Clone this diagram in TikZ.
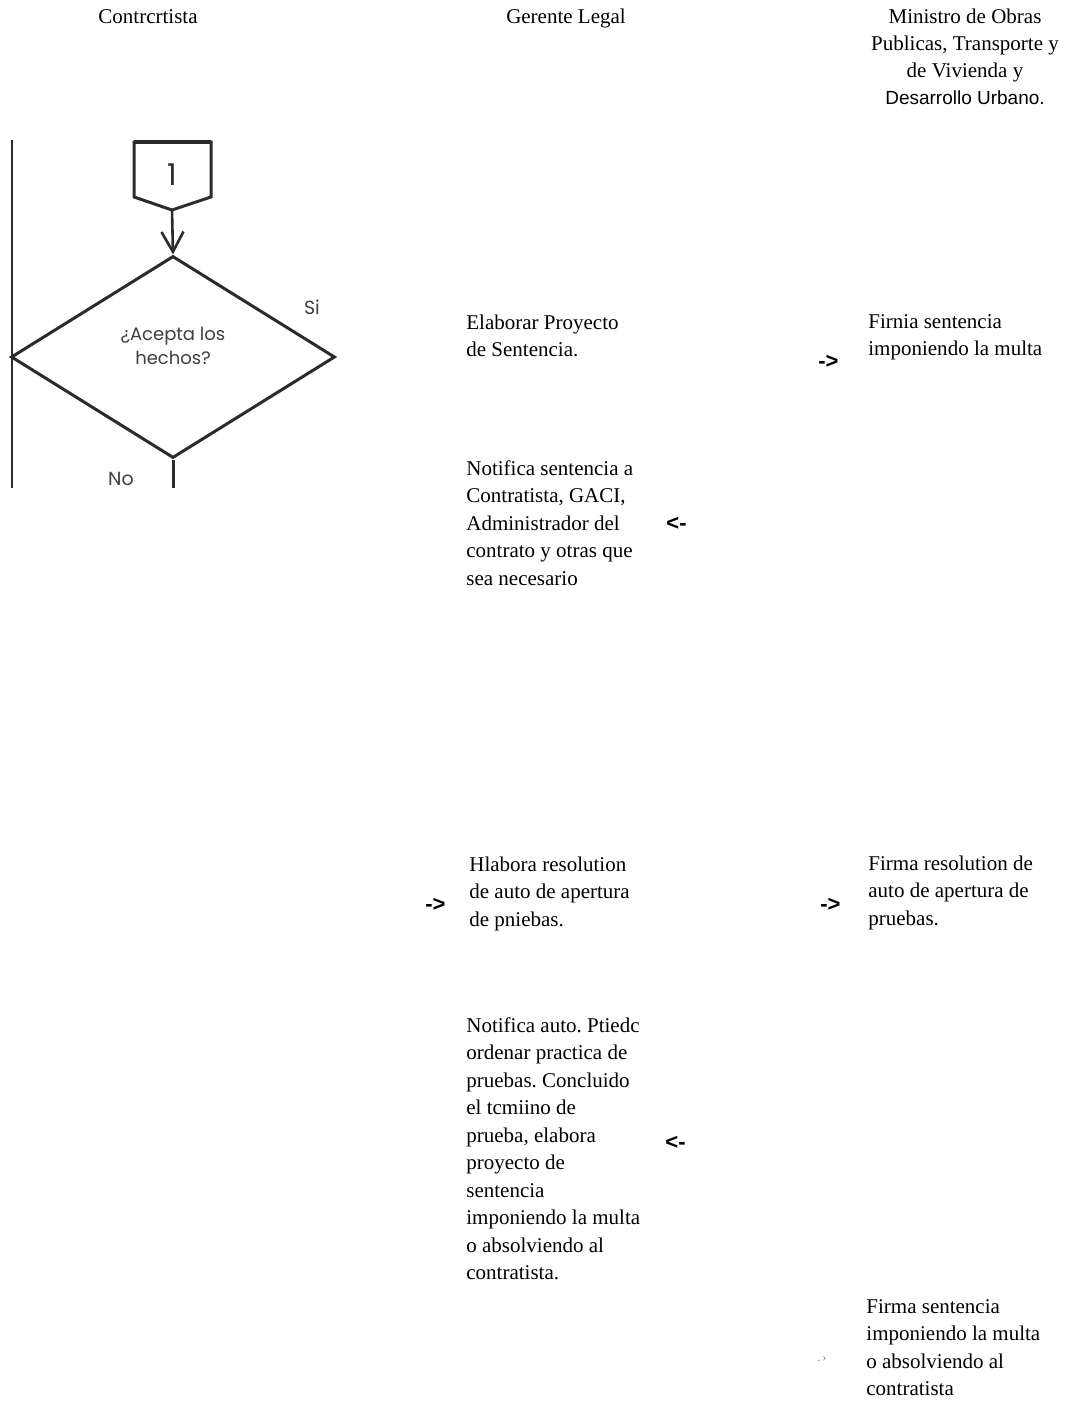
\documentclass[tikz,border=0pt]{standalone}
\usepackage{fontspec}
\setmainfont{Liberation Serif}
\setsansfont{Liberation Sans}
\newfontfamily\flowfont{Poppins}
\usetikzlibrary{shapes.geometric,arrows.meta}
\frenchspacing
\definecolor{ink}{HTML}{2B2B2B}
\definecolor{flowtext}{HTML}{3E3E3E}
\newcommand{\leftblk}[1]{\begin{tabular}[t]{@{}l@{}}#1\end{tabular}}
\newcommand{\centblk}[1]{\begin{tabular}[t]{@{}c@{}}#1\end{tabular}}
\tikzset{
  body/.style={font=\frenchspacing\fontsize{10.5}{13.75}\selectfont, anchor=base west, inner sep=0pt},
  hdr/.style={font=\fontsize{10.5}{13.4}\selectfont, anchor=base, inner sep=0pt},
  arrtxt/.style={font=\sffamily\bfseries\fontsize{11}{13}\selectfont, anchor=west, inner sep=0pt},
  flowline/.style={draw=ink, line width=1.5pt, line join=miter},
  flowlbl/.style={font=\flowfont\fontsize{9}{12}\selectfont, text=flowtext, inner sep=0pt, align=center}
}
\begin{document}
\begin{tikzpicture}[x=0.5pt,y=-0.5pt]
\useasboundingbox (0,0) rectangle (1070,1402);
% headers
\node[hdr] (h1) at (148,24) {Contrcrtista};
\node[hdr] (h2) at (566,24) {Gerente Legal};
\node[hdr] (h3) at (965,24) {\centblk{Ministro de Obras\\Publicas, Transporte y\\de Vivienda y\\{\sffamily\fontsize{9.5}{13.4}\selectfont Desarrollo Urbano.}}};
% flowchart fragment
\draw[flowline, line width=1.2pt] (12,140) -- (12,488);
\coordinate (pTL) at (134,142);
\coordinate (pTR) at (211,142);
\coordinate (pR) at (211,197);
\coordinate (ptip) at (172,210);
\coordinate (pL) at (134,197);
\draw[flowline] (pTL) -- (pTR) -- (pR) -- (ptip) -- (pL) -- cycle;
\draw[draw=ink, line width=2.4pt] (pTL) -- (pTR);
\node[flowlbl, text=ink, font=\flowfont\fontsize{15}{16}\selectfont] (one) at (172,175) {1};
\node[diamond, flowline, minimum width=162pt, minimum height=101pt, inner sep=0pt] (dec) at (173,357) {};
\node[flowlbl] (q) at (173,346) {¿Acepta los\\hechos?};
\draw[flowline, line width=1.3pt, -{Straight Barb[length=10pt,width=11pt,line width=1.3pt]}] (ptip) -- (dec.north);
\coordinate (nobot) at (173,488);
\draw[flowline] (dec.south) -- (nobot);
\node[flowlbl, font=\flowfont\fontsize{9.5}{12}\selectfont] (si) at (312,307) {Si};
\node[flowlbl, font=\flowfont\fontsize{9.5}{12}\selectfont] (no) at (121,479) {No};
% Gerente Legal column
\node[body] (elab) at (466,329) {\leftblk{Elaborar Proyecto\\de Sentencia.}};
\node[body] (notsent) at (466,475) {\leftblk{Notifica sentencia a\\Contratista, GACI,\\Administrador del\\contrato y otras que\\sea necesario}};
\node[body] (hlab) at (469,871) {\leftblk{Hlabora resolution\\de auto de apertura\\de pniebas.}};
\node[body] (notauto) at (466,1032) {\leftblk{Notifica auto. Ptiedc\\ordenar practica de\\pruebas. Concluido\\el tcmiino de\\prueba, elabora\\proyecto de\\sentencia\\imponiendo la multa\\o absolviendo al\\contratista.}};
% Ministro column
\node[body] (firnia) at (868,328) {\leftblk{Firnia sentencia\\imponiendo la multa}};
\node[body] (firmares) at (868,870) {\leftblk{Firma resolution de\\auto de apertura de\\pruebas.}};
\node[body] (firmasent) at (866,1313) {\leftblk{Firma sentencia\\imponiendo la multa\\o absolviendo al\\contratista}};
% arrow glyphs
\node[arrtxt] (a1) at (818,362) {->};
\node[arrtxt] (a2) at (666,524) {<-};
\node[arrtxt] (a3) at (425,905) {->};
\node[arrtxt] (a4) at (820,905) {->};
\node[arrtxt] (a5) at (665,1143) {<-};
\node[anchor=west, inner sep=0pt, text=gray, font=\fontsize{6}{7}\selectfont] (dots) at (817,1359) {.\,›};
\end{tikzpicture}
\end{document}
